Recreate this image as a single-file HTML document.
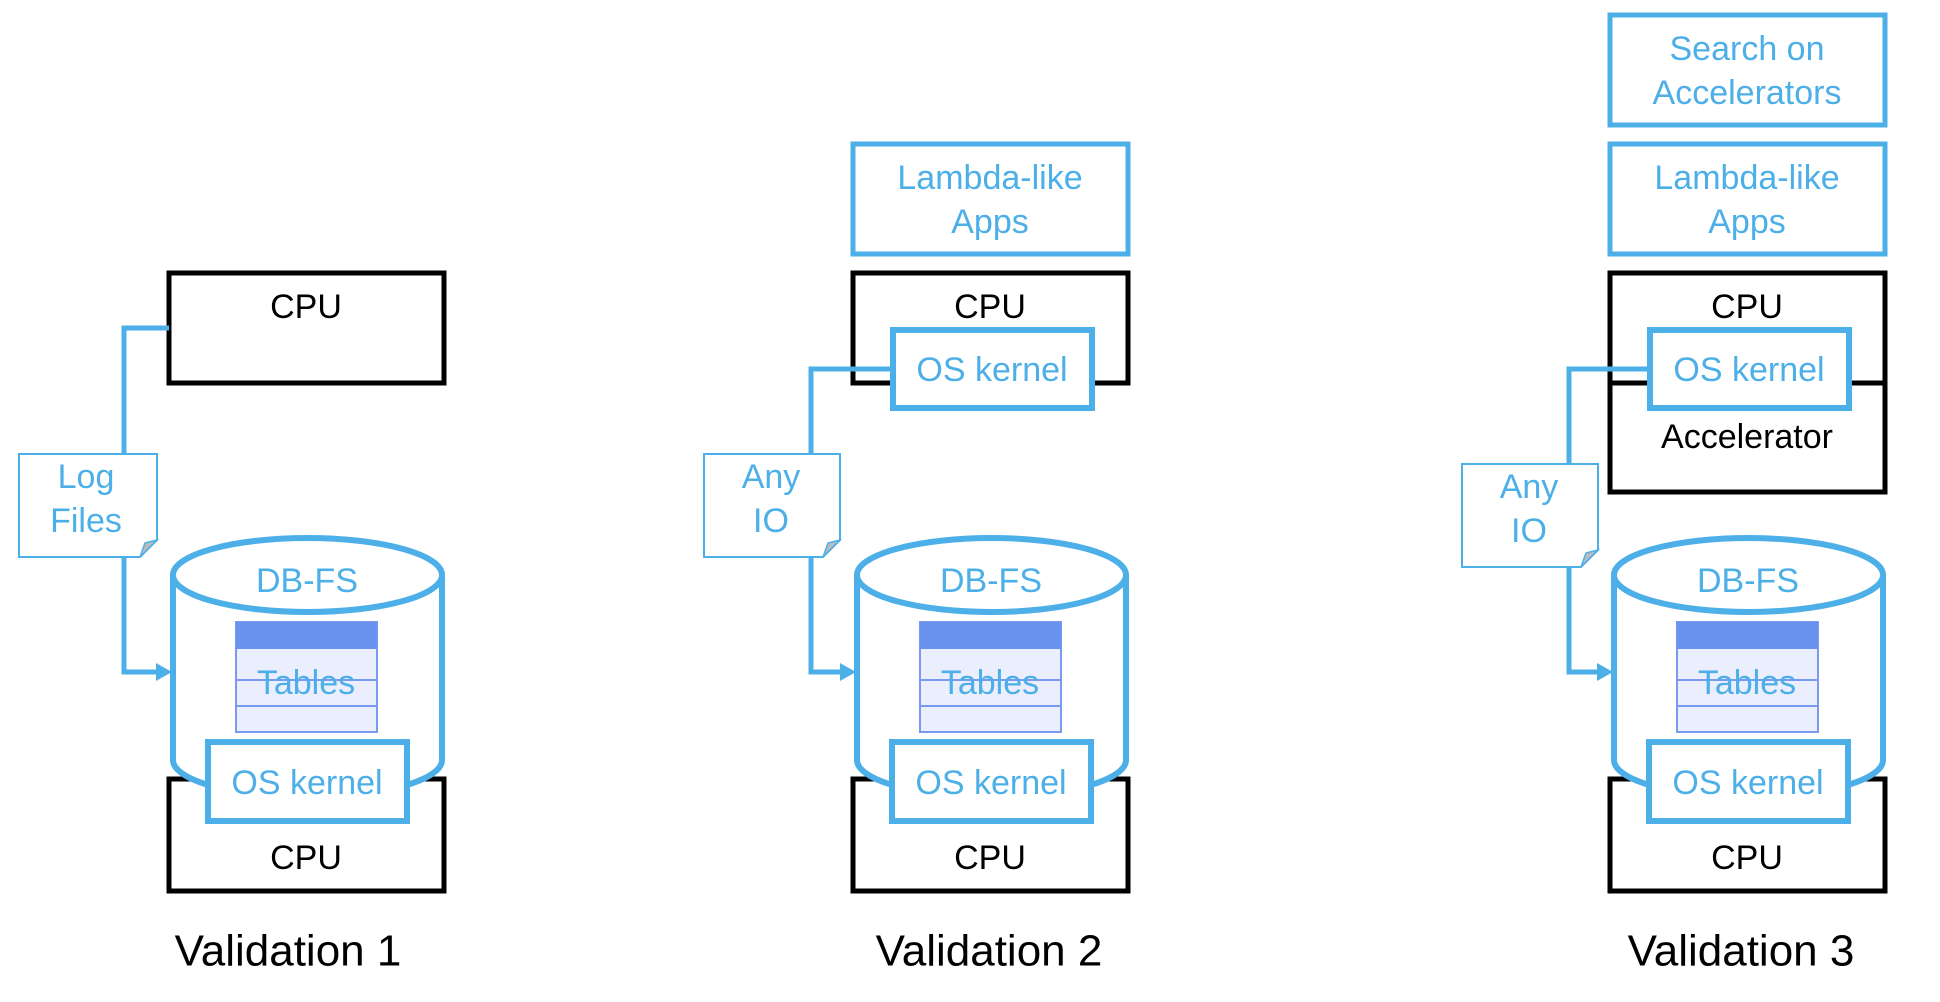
<!DOCTYPE html>
<html><head><meta charset="utf-8"><style>
html,body{margin:0;padding:0;background:#fff;}
svg{display:block;}
text{font-family:"Liberation Sans",Arial,sans-serif;text-anchor:middle;dominant-baseline:central;}
.b{fill:#4DAFE8;font-size:34px;}
.k{fill:#000;font-size:34px;}
</style></head><body>
<svg width="1940" height="1002" viewBox="0 0 1940 1002" xmlns="http://www.w3.org/2000/svg">
<defs>
<g id="cyl">
  <rect x="169" y="779" width="275" height="112" fill="#fff" stroke="#000" stroke-width="5"/>
  <path d="M173 575 L173 760 A134.5 37 0 0 0 442 760 L442 575" fill="#fff" stroke="#4DAFE8" stroke-width="6"/>
  <ellipse cx="307.5" cy="575" rx="134.5" ry="37" fill="#fff" stroke="#4DAFE8" stroke-width="6"/>
  <text class="b" x="307" y="581">DB-FS</text>
  <rect x="236" y="622" width="141" height="110" fill="#EBEEFD" stroke="#7A9AF2" stroke-width="2"/>
  <rect x="236" y="622" width="141" height="27" fill="#6A93F0"/>
  <line x1="236" y1="680" x2="377" y2="680" stroke="#7A9AF2" stroke-width="2"/>
  <line x1="236" y1="706" x2="377" y2="706" stroke="#7A9AF2" stroke-width="2"/>
  <text class="b" x="306" y="683">Tables</text>
  <rect x="208" y="742" width="199" height="79" fill="#fff" stroke="#4DAFE8" stroke-width="6"/>
  <text class="b" x="307" y="783">OS kernel</text>
  <text class="k" x="306" y="858">CPU</text>
</g>
</defs>

<!-- Panel 1 -->
<g>
  <rect x="169" y="273" width="275" height="110" fill="#fff" stroke="#000" stroke-width="5"/>
  <text class="k" x="306" y="307">CPU</text>
  <polyline points="169,328 124,328 124,672 160,672" fill="none" stroke="#4DAFE8" stroke-width="5"/>
  <polygon points="172,672 156,663 156,681" fill="#4DAFE8"/>
  <use href="#cyl"/>
  <path d="M19 454 L157 454 L157 540 L140 557 L19 557 Z" fill="#fff" stroke="#4DAFE8" stroke-width="2"/>
  <path d="M157 540 L145 543 L140 557 Z" fill="#bbb" stroke="#4DAFE8" stroke-width="1.5"/>
  <text class="b" x="86" y="477">Log</text>
  <text class="b" x="86" y="521">Files</text>
  <text class="k" x="288" y="951" style="font-size:44px">Validation 1</text>
</g>

<!-- Panel 2 -->
<g transform="translate(684,0)">
  <rect x="169" y="144" width="275" height="110" fill="#fff" stroke="#4DAFE8" stroke-width="5"/>
  <text class="b" x="306" y="178">Lambda-like</text>
  <text class="b" x="306" y="222">Apps</text>
  <rect x="169" y="273" width="275" height="110" fill="#fff" stroke="#000" stroke-width="5"/>
  <text class="k" x="306" y="307">CPU</text>
  <polyline points="209,369 127,369 127,672 160,672" fill="none" stroke="#4DAFE8" stroke-width="5"/>
  <polygon points="172,672 156,663 156,681" fill="#4DAFE8"/>
  <rect x="209" y="330" width="199" height="78" fill="#fff" stroke="#4DAFE8" stroke-width="6"/>
  <text class="b" x="308" y="370">OS kernel</text>
  <use href="#cyl"/>
  <path d="M20 454 L156 454 L156 540 L139 557 L20 557 Z" fill="#fff" stroke="#4DAFE8" stroke-width="2"/>
  <path d="M156 540 L144 543 L139 557 Z" fill="#bbb" stroke="#4DAFE8" stroke-width="1.5"/>
  <text class="b" x="87" y="477">Any</text>
  <text class="b" x="87" y="521">IO</text>
  <text class="k" x="305" y="951" style="font-size:44px">Validation 2</text>
</g>

<!-- Panel 3 -->
<g transform="translate(1441,0)">
  <rect x="169" y="15" width="275" height="110" fill="#fff" stroke="#4DAFE8" stroke-width="5"/>
  <text class="b" x="306" y="49">Search on</text>
  <text class="b" x="306" y="93">Accelerators</text>
  <rect x="169" y="144" width="275" height="110" fill="#fff" stroke="#4DAFE8" stroke-width="5"/>
  <text class="b" x="306" y="178">Lambda-like</text>
  <text class="b" x="306" y="222">Apps</text>
  <rect x="169" y="273" width="275" height="219" fill="#fff" stroke="#000" stroke-width="5"/>
  <line x1="169" y1="383" x2="444" y2="383" stroke="#000" stroke-width="5"/>
  <text class="k" x="306" y="307">CPU</text>
  <text class="k" x="306" y="437">Accelerator</text>
  <polyline points="209,369 128,369 128,672 160,672" fill="none" stroke="#4DAFE8" stroke-width="5"/>
  <polygon points="172,672 156,663 156,681" fill="#4DAFE8"/>
  <rect x="209" y="330" width="199" height="78" fill="#fff" stroke="#4DAFE8" stroke-width="6"/>
  <text class="b" x="308" y="370">OS kernel</text>
  <use href="#cyl"/>
  <path d="M21 464 L157 464 L157 550 L140 567 L21 567 Z" fill="#fff" stroke="#4DAFE8" stroke-width="2"/>
  <path d="M157 550 L145 553 L140 567 Z" fill="#bbb" stroke="#4DAFE8" stroke-width="1.5"/>
  <text class="b" x="88" y="487">Any</text>
  <text class="b" x="88" y="531">IO</text>
  <text class="k" x="300" y="951" style="font-size:44px">Validation 3</text>
</g>
</svg>
</body></html>
